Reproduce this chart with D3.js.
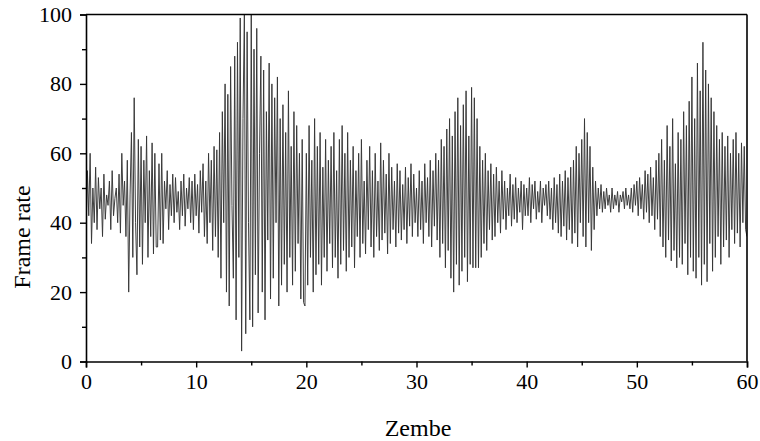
<!DOCTYPE html>
<html>
<head>
<meta charset="utf-8">
<script src="https://cdn.jsdelivr.net/npm/d3@7/dist/d3.min.js"></script>
<style>
  html, body { margin: 0; padding: 0; background: #fff; }
  svg { display: block; }
</style>
</head>
<body>
<svg id="chart" width="760" height="441"></svg>
<script>
// Frame rate sampled every 0.125 along the Zembe axis (0 .. 60), one row per unit
const xStep = 0.125;
const frameRate = [
  36, 55, 42, 60, 34, 50, 40, 56,
  38, 53, 44, 50, 36, 54, 41, 48,
  45, 52, 38, 55, 42, 47, 50, 40,
  54, 37, 60, 45, 52, 36, 58, 20,
  48, 66, 30, 76, 40, 25, 64, 33,
  62, 28, 58, 40, 65, 30, 55, 36,
  63, 31, 60, 33, 33, 57, 35, 60,
  34, 52, 44, 55, 38, 51, 42, 54,
  40, 53, 43, 49, 38, 52, 42, 54,
  39, 50, 44, 53, 40, 52, 38, 54,
  42, 51, 37, 55, 43, 57, 36, 52,
  34, 60, 40, 58, 32, 62, 36, 61,
  30, 66, 24, 72, 40, 80, 20, 77,
  16, 85, 45, 24, 88, 12, 92, 30,
  99, 3, 70, 100, 8, 95, 40, 12,
  100, 10, 90, 25, 96, 14, 60, 88,
  20, 84, 12, 72, 35, 86, 18, 80,
  24, 76, 40, 82, 16, 70, 22, 74,
  28, 66, 20, 78, 30, 62, 22, 72,
  26, 68, 34, 60, 18, 64, 17, 16,
  60, 22, 68, 30, 58, 20, 70, 25,
  62, 28, 66, 22, 56, 30, 64, 26,
  58, 34, 62, 27, 66, 30, 55, 24,
  64, 28, 68, 32, 60, 26, 66, 30,
  58, 33, 62, 27, 55, 36, 60, 30,
  64, 34, 52, 31, 58, 38, 62, 33,
  55, 30, 60, 36, 52, 32, 63, 35,
  58, 37, 54, 31, 60, 34, 56, 38,
  52, 33, 57, 37, 55, 35, 51, 38,
  56, 34, 53, 39, 57, 36, 54, 40,
  50, 36, 55, 38, 52, 34, 57, 40,
  53, 36, 58, 33, 55, 39, 60, 35,
  58, 30, 64, 34, 62, 27, 67, 32,
  70, 24, 65, 20, 72, 28, 76, 22,
  68, 26, 74, 30, 78, 23, 65, 28,
  79, 27, 76, 27, 70, 27, 62, 30,
  58, 34, 60, 32, 55, 38, 57, 35,
  54, 36, 56, 40, 52, 37, 55, 41,
  52, 38, 50, 42, 54, 39, 51, 41,
  53, 40, 50, 43, 52, 38, 51, 42,
  50, 42, 53, 40, 51, 44, 52, 41,
  49, 43, 52, 40, 50, 45, 51, 42,
  52, 41, 50, 38, 53, 40, 51, 37,
  54, 36, 52, 39, 55, 35, 53, 38,
  56, 34, 58, 37, 62, 33, 60, 40,
  64, 36, 70, 33, 66, 40, 62, 32,
  56, 38, 52, 42, 50, 44, 51, 43,
  49, 44, 50, 45, 48, 43, 50, 44,
  48, 45, 49, 43, 48, 46, 49, 44,
  50, 45, 48, 44, 50, 43, 51, 45,
  52, 42, 53, 44, 51, 41, 55, 43,
  54, 40, 56, 42, 53, 38, 58, 41,
  60, 36, 64, 33, 58, 30, 68, 35,
  62, 29, 70, 32, 57, 27, 66, 30,
  64, 28, 72, 34, 68, 25, 75, 30,
  82, 26, 70, 24, 86, 30, 78, 22,
  92, 28, 84, 23, 80, 34, 76, 26,
  72, 30, 68, 36, 64, 28, 66, 33,
  62, 35, 65, 30, 60, 38, 64, 34,
  66, 37, 60, 33, 63, 40, 62, 38,
  36
];
const xTicks = [0, 10, 20, 30, 40, 50, 60];
const xMinorTicks = [5, 15, 25, 35, 45, 55];
const yTicks = [0, 20, 40, 60, 80, 100];
const yMinorTicks = [10, 30, 50, 70, 90];
const xTitle = "Zembe";
const yTitle = "Frame rate";

const svg = d3.select("#chart");
const margin = { left: 86, right: 13, top: 14.5, bottom: 79.5 };
const W = 760, H = 441;
const iw = W - margin.left - margin.right;
const ih = H - margin.top - margin.bottom;

const x = d3.scaleLinear().domain([0, 60]).range([0, iw]);
const y = d3.scaleLinear().domain([0, 100]).range([ih, 0]);

const g = svg.append("g").attr("transform", `translate(${margin.left},${margin.top})`);

g.append("clipPath").attr("id", "plotClip")
  .append("rect").attr("x", 0).attr("y", 0).attr("width", iw).attr("height", ih);

const line = d3.line()
  .x((d, i) => x(i * xStep))
  .y(d => y(d));

g.append("path")
  .datum(frameRate)
  .attr("clip-path", "url(#plotClip)")
  .attr("fill", "none")
  .attr("stroke", "#363636")
  .attr("stroke-width", 0.95)
  .attr("stroke-linejoin", "miter")
  .attr("d", line);

const fontFamily = '"Liberation Serif", "Times New Roman", serif';

// Bottom axis: labelled majors every 10, minors every 5
g.append("g").attr("transform", `translate(0,${ih})`)
  .call(d3.axisBottom(x).tickValues(xTicks).tickFormat(d3.format("d")).tickSize(6).tickPadding(6));
g.append("g").attr("transform", `translate(0,${ih})`)
  .call(d3.axisBottom(x).tickValues(xMinorTicks).tickFormat("").tickSize(4))
  .call(s => s.select(".domain").remove());

// Left axis: labelled majors every 20, minors every 10
g.append("g")
  .call(d3.axisLeft(y).tickValues(yTicks).tickFormat(d3.format("d")).tickSize(6).tickPadding(8));
g.append("g")
  .call(d3.axisLeft(y).tickValues(yMinorTicks).tickFormat("").tickSize(4))
  .call(s => s.select(".domain").remove());

g.selectAll(".domain").attr("stroke", "#000").attr("stroke-width", 1.6);
g.selectAll(".tick line").attr("stroke", "#000").attr("stroke-width", 1.4);
g.selectAll(".tick text")
  .attr("fill", "#000")
  .style("font-family", fontFamily)
  .style("font-size", "22px");

// Top and right frame lines
g.append("line").attr("x1", 0).attr("x2", iw).attr("y1", 0).attr("y2", 0)
  .attr("stroke", "#000").attr("stroke-width", 1.6);
g.append("line").attr("x1", iw).attr("x2", iw).attr("y1", 0).attr("y2", ih)
  .attr("stroke", "#000").attr("stroke-width", 1.6);

// Axis titles
svg.append("text")
  .attr("x", 418)
  .attr("y", 436)
  .attr("text-anchor", "middle")
  .style("font-family", fontFamily)
  .style("font-size", "24px")
  .attr("fill", "#000")
  .text(xTitle);

svg.append("text")
  .attr("transform", "translate(30,237) rotate(-90)")
  .attr("text-anchor", "middle")
  .style("font-family", fontFamily)
  .style("font-size", "24px")
  .attr("fill", "#000")
  .text(yTitle);
</script>
</body>
</html>
